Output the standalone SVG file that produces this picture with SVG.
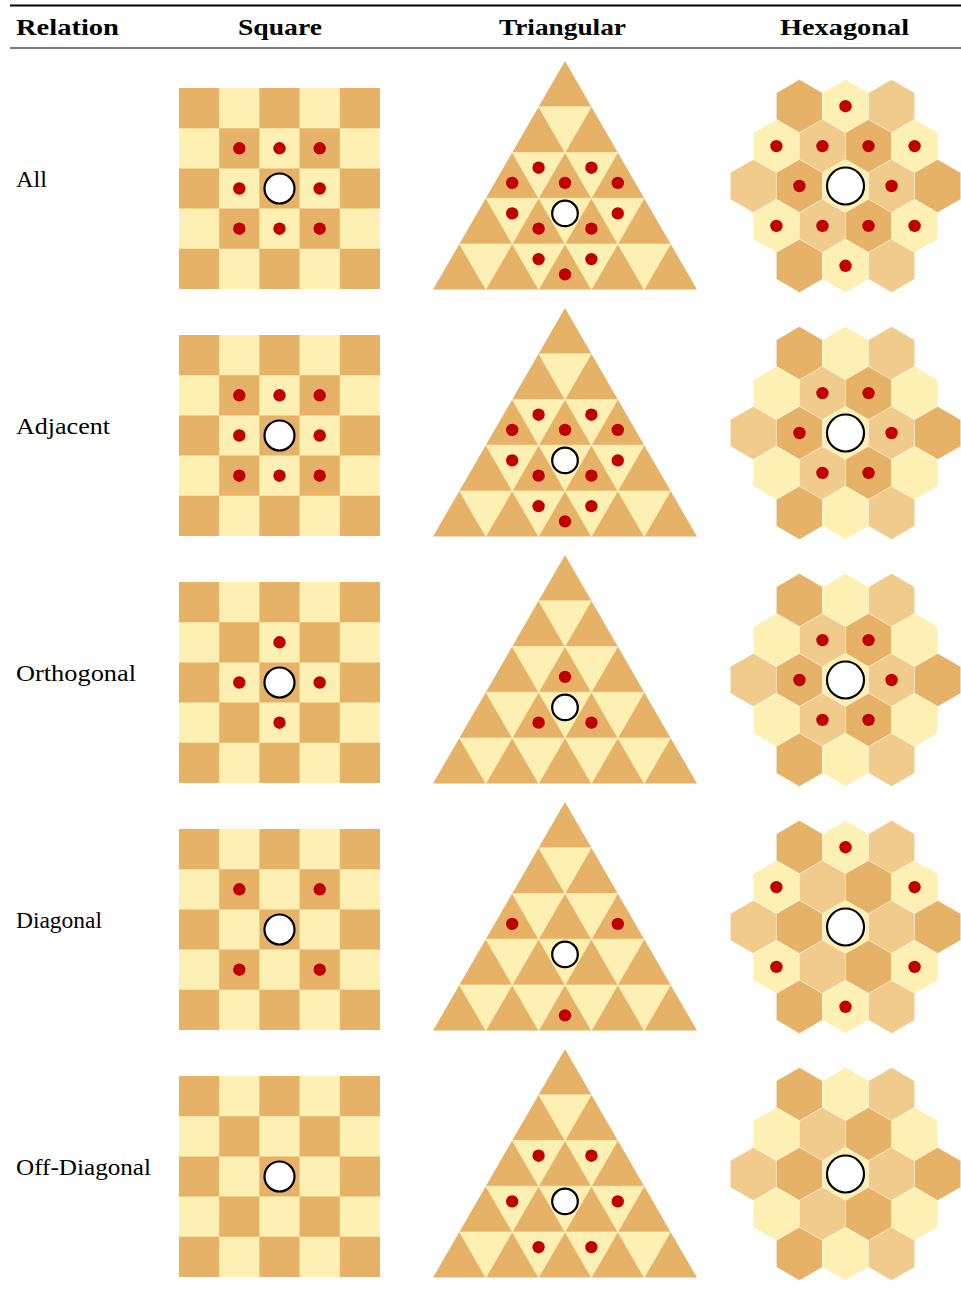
<svg xmlns="http://www.w3.org/2000/svg" width="961" height="1293" viewBox="0 0 961 1293">
<style>
.d{fill:#E6B267}.m{fill:#F1CB8C}.l{fill:#FEF0B3}
.dot{fill:#C00000}
.pc{fill:#fff;stroke:#000;stroke-width:2.2}
.h{font-family:"Liberation Serif",serif;font-weight:bold;font-size:23px;fill:#000}
.t{font-family:"Liberation Serif",serif;font-size:24px;fill:#000}
.hs{stroke:#fff;stroke-opacity:.4;stroke-width:.8}
.ts{stroke:#FEF0B3;stroke-width:.6}
</style>
<defs>
<g id="sq">
<rect class="d" width="201" height="201"/>
<path class="l" d="M40.2,0h40.2v40.2h-40.2z M120.6,0h40.2v40.2h-40.2z M0,40.2h40.2v40.2h-40.2z M80.4,40.2h40.2v40.2h-40.2z M160.8,40.2h40.2v40.2h-40.2z M40.2,80.4h40.2v40.2h-40.2z M120.6,80.4h40.2v40.2h-40.2z M0,120.6h40.2v40.2h-40.2z M80.4,120.6h40.2v40.2h-40.2z M160.8,120.6h40.2v40.2h-40.2z M40.2,160.8h40.2v40.2h-40.2z M120.6,160.8h40.2v40.2h-40.2z"/>
</g>
<g id="tri">
<path class="d" d="M0,0L132,228.6L-132,228.6Z"/>
<path class="l ts" d="M-26.4,45.72L26.4,45.72L0,91.44Z M-52.8,91.44L0,91.44L-26.4,137.16Z M0,91.44L52.8,91.44L26.4,137.16Z M-79.2,137.16L-26.4,137.16L-52.8,182.88Z M-26.4,137.16L26.4,137.16L0,182.88Z M26.4,137.16L79.2,137.16L52.8,182.88Z M-105.6,182.88L-52.8,182.88L-79.2,228.6Z M-52.8,182.88L0,182.88L-26.4,228.6Z M0,182.88L52.8,182.88L26.4,228.6Z M52.8,182.88L105.6,182.88L79.2,228.6Z"/>
</g>
<path id="hp" d="M0,-26.6L23.04,-13.3L23.04,13.3L0,26.6L-23.04,13.3L-23.04,-13.3Z"/>
<g id="hex">
<use href="#hp" class="d hs" x="-46.07" y="-79.8"/>
<use href="#hp" class="l hs" x="0" y="-79.8"/>
<use href="#hp" class="m hs" x="46.07" y="-79.8"/>
<use href="#hp" class="l hs" x="-69.1" y="-39.9"/>
<use href="#hp" class="m hs" x="-23.035" y="-39.9"/>
<use href="#hp" class="d hs" x="23.035" y="-39.9"/>
<use href="#hp" class="l hs" x="69.1" y="-39.9"/>
<use href="#hp" class="m hs" x="-92.14" y="0"/>
<use href="#hp" class="d hs" x="-46.07" y="0"/>
<use href="#hp" class="l hs" x="0" y="0"/>
<use href="#hp" class="m hs" x="46.07" y="0"/>
<use href="#hp" class="d hs" x="92.14" y="0"/>
<use href="#hp" class="l hs" x="-69.1" y="39.9"/>
<use href="#hp" class="m hs" x="-23.035" y="39.9"/>
<use href="#hp" class="d hs" x="23.035" y="39.9"/>
<use href="#hp" class="l hs" x="69.1" y="39.9"/>
<use href="#hp" class="d hs" x="-46.07" y="79.8"/>
<use href="#hp" class="l hs" x="0" y="79.8"/>
<use href="#hp" class="m hs" x="46.07" y="79.8"/>
</g>
</defs>
<rect width="961" height="1293" fill="#fff"/>

<g id="header">
<line x1="10" y1="5.5" x2="961" y2="5.5" stroke="#000" stroke-width="1.8"/>
<line x1="10" y1="48" x2="961" y2="48" stroke="#000" stroke-width="1.1"/>
<text class="h" x="16" y="35" textLength="103" lengthAdjust="spacingAndGlyphs">Relation</text>
<text class="h" x="238" y="35" textLength="84" lengthAdjust="spacingAndGlyphs">Square</text>
<text class="h" x="499" y="35" textLength="127" lengthAdjust="spacingAndGlyphs">Triangular</text>
<text class="h" x="780" y="35" textLength="129" lengthAdjust="spacingAndGlyphs">Hexagonal</text>
</g>

<!-- Row 1: All -->
<g id="row-all">
<text class="t" x="16" y="187" textLength="31" lengthAdjust="spacingAndGlyphs">All</text>
<g id="all-square" transform="translate(279.5,188.5)">
<use href="#sq" x="-100.5" y="-100.5"/>
<circle class="dot" cx="-40.2" cy="-40.2" r="6.2"/><circle class="dot" cx="0" cy="-40.2" r="6.2"/><circle class="dot" cx="40.2" cy="-40.2" r="6.2"/>
<circle class="dot" cx="-40.2" cy="0" r="6.2"/><circle class="dot" cx="40.2" cy="0" r="6.2"/>
<circle class="dot" cx="-40.2" cy="40.2" r="6.2"/><circle class="dot" cx="0" cy="40.2" r="6.2"/><circle class="dot" cx="40.2" cy="40.2" r="6.2"/>
<circle class="pc" cx="0" cy="0" r="15"/>
</g>
<g id="all-tri" transform="translate(565,61)">
<use href="#tri"/>
<circle class="dot" cx="-26.4" cy="106.68" r="6.2"/><circle class="dot" cx="26.4" cy="106.68" r="6.2"/>
<circle class="dot" cx="-52.8" cy="121.92" r="6.2"/><circle class="dot" cx="0" cy="121.92" r="6.2"/><circle class="dot" cx="52.8" cy="121.92" r="6.2"/>
<circle class="dot" cx="-52.8" cy="152.4" r="6.2"/><circle class="dot" cx="52.8" cy="152.4" r="6.2"/>
<circle class="dot" cx="-26.4" cy="167.64" r="6.2"/><circle class="dot" cx="26.4" cy="167.64" r="6.2"/>
<circle class="dot" cx="-26.4" cy="198.12" r="6.2"/><circle class="dot" cx="26.4" cy="198.12" r="6.2"/>
<circle class="dot" cx="0" cy="213.36" r="6.2"/>
<circle class="pc" cx="0" cy="152.4" r="12.8"/>
</g>
<g id="all-hex" transform="translate(845.5,186)">
<use href="#hex"/>
<circle class="dot" cx="0" cy="-79.8" r="6.2"/>
<circle class="dot" cx="-69.1" cy="-39.9" r="6.2"/><circle class="dot" cx="-23.035" cy="-39.9" r="6.2"/><circle class="dot" cx="23.035" cy="-39.9" r="6.2"/><circle class="dot" cx="69.1" cy="-39.9" r="6.2"/>
<circle class="dot" cx="-46.07" cy="0" r="6.2"/><circle class="dot" cx="46.07" cy="0" r="6.2"/>
<circle class="dot" cx="-69.1" cy="39.9" r="6.2"/><circle class="dot" cx="-23.035" cy="39.9" r="6.2"/><circle class="dot" cx="23.035" cy="39.9" r="6.2"/><circle class="dot" cx="69.1" cy="39.9" r="6.2"/>
<circle class="dot" cx="0" cy="79.8" r="6.2"/>
<circle class="pc" cx="0" cy="0" r="18.5"/>
</g>
</g>

<!-- Row 2: Adjacent -->
<g id="row-adjacent">
<text class="t" x="16" y="434" textLength="94" lengthAdjust="spacingAndGlyphs">Adjacent</text>
<g id="adj-square" transform="translate(279.5,435.5)">
<use href="#sq" x="-100.5" y="-100.5"/>
<circle class="dot" cx="-40.2" cy="-40.2" r="6.2"/><circle class="dot" cx="0" cy="-40.2" r="6.2"/><circle class="dot" cx="40.2" cy="-40.2" r="6.2"/>
<circle class="dot" cx="-40.2" cy="0" r="6.2"/><circle class="dot" cx="40.2" cy="0" r="6.2"/>
<circle class="dot" cx="-40.2" cy="40.2" r="6.2"/><circle class="dot" cx="0" cy="40.2" r="6.2"/><circle class="dot" cx="40.2" cy="40.2" r="6.2"/>
<circle class="pc" cx="0" cy="0" r="15"/>
</g>
<g id="adj-tri" transform="translate(565,308)">
<use href="#tri"/>
<circle class="dot" cx="-26.4" cy="106.68" r="6.2"/><circle class="dot" cx="26.4" cy="106.68" r="6.2"/>
<circle class="dot" cx="-52.8" cy="121.92" r="6.2"/><circle class="dot" cx="0" cy="121.92" r="6.2"/><circle class="dot" cx="52.8" cy="121.92" r="6.2"/>
<circle class="dot" cx="-52.8" cy="152.4" r="6.2"/><circle class="dot" cx="52.8" cy="152.4" r="6.2"/>
<circle class="dot" cx="-26.4" cy="167.64" r="6.2"/><circle class="dot" cx="26.4" cy="167.64" r="6.2"/>
<circle class="dot" cx="-26.4" cy="198.12" r="6.2"/><circle class="dot" cx="26.4" cy="198.12" r="6.2"/>
<circle class="dot" cx="0" cy="213.36" r="6.2"/>
<circle class="pc" cx="0" cy="152.4" r="12.8"/>
</g>
<g id="adj-hex" transform="translate(845.5,433)">
<use href="#hex"/>
<circle class="dot" cx="-23.035" cy="-39.9" r="6.2"/><circle class="dot" cx="23.035" cy="-39.9" r="6.2"/>
<circle class="dot" cx="-46.07" cy="0" r="6.2"/><circle class="dot" cx="46.07" cy="0" r="6.2"/>
<circle class="dot" cx="-23.035" cy="39.9" r="6.2"/><circle class="dot" cx="23.035" cy="39.9" r="6.2"/>
<circle class="pc" cx="0" cy="0" r="18.5"/>
</g>
</g>

<!-- Row 3: Orthogonal -->
<g id="row-orthogonal">
<text class="t" x="16" y="681" textLength="120" lengthAdjust="spacingAndGlyphs">Orthogonal</text>
<g id="orth-square" transform="translate(279.5,682.5)">
<use href="#sq" x="-100.5" y="-100.5"/>
<circle class="dot" cx="0" cy="-40.2" r="6.2"/>
<circle class="dot" cx="-40.2" cy="0" r="6.2"/><circle class="dot" cx="40.2" cy="0" r="6.2"/>
<circle class="dot" cx="0" cy="40.2" r="6.2"/>
<circle class="pc" cx="0" cy="0" r="15"/>
</g>
<g id="orth-tri" transform="translate(565,555)">
<use href="#tri"/>
<circle class="dot" cx="0" cy="121.92" r="6.2"/>
<circle class="dot" cx="-26.4" cy="167.64" r="6.2"/><circle class="dot" cx="26.4" cy="167.64" r="6.2"/>
<circle class="pc" cx="0" cy="152.4" r="12.8"/>
</g>
<g id="orth-hex" transform="translate(845.5,680)">
<use href="#hex"/>
<circle class="dot" cx="-23.035" cy="-39.9" r="6.2"/><circle class="dot" cx="23.035" cy="-39.9" r="6.2"/>
<circle class="dot" cx="-46.07" cy="0" r="6.2"/><circle class="dot" cx="46.07" cy="0" r="6.2"/>
<circle class="dot" cx="-23.035" cy="39.9" r="6.2"/><circle class="dot" cx="23.035" cy="39.9" r="6.2"/>
<circle class="pc" cx="0" cy="0" r="18.5"/>
</g>
</g>

<!-- Row 4: Diagonal -->
<g id="row-diagonal">
<text class="t" x="16" y="928" textLength="86" lengthAdjust="spacingAndGlyphs">Diagonal</text>
<g id="diag-square" transform="translate(279.5,929.5)">
<use href="#sq" x="-100.5" y="-100.5"/>
<circle class="dot" cx="-40.2" cy="-40.2" r="6.2"/><circle class="dot" cx="40.2" cy="-40.2" r="6.2"/>
<circle class="dot" cx="-40.2" cy="40.2" r="6.2"/><circle class="dot" cx="40.2" cy="40.2" r="6.2"/>
<circle class="pc" cx="0" cy="0" r="15"/>
</g>
<g id="diag-tri" transform="translate(565,802)">
<use href="#tri"/>
<circle class="dot" cx="-52.8" cy="121.92" r="6.2"/><circle class="dot" cx="52.8" cy="121.92" r="6.2"/>
<circle class="dot" cx="0" cy="213.36" r="6.2"/>
<circle class="pc" cx="0" cy="152.4" r="12.8"/>
</g>
<g id="diag-hex" transform="translate(845.5,927)">
<use href="#hex"/>
<circle class="dot" cx="0" cy="-79.8" r="6.2"/>
<circle class="dot" cx="-69.1" cy="-39.9" r="6.2"/><circle class="dot" cx="69.1" cy="-39.9" r="6.2"/>
<circle class="dot" cx="-69.1" cy="39.9" r="6.2"/><circle class="dot" cx="69.1" cy="39.9" r="6.2"/>
<circle class="dot" cx="0" cy="79.8" r="6.2"/>
<circle class="pc" cx="0" cy="0" r="18.5"/>
</g>
</g>

<!-- Row 5: Off-Diagonal -->
<g id="row-offdiagonal">
<text class="t" x="16" y="1175" textLength="135" lengthAdjust="spacingAndGlyphs">Off-Diagonal</text>
<g id="off-square" transform="translate(279.5,1176.5)">
<use href="#sq" x="-100.5" y="-100.5"/>
<circle class="pc" cx="0" cy="0" r="15"/>
</g>
<g id="off-tri" transform="translate(565,1049)">
<use href="#tri"/>
<circle class="dot" cx="-26.4" cy="106.68" r="6.2"/><circle class="dot" cx="26.4" cy="106.68" r="6.2"/>
<circle class="dot" cx="-52.8" cy="152.4" r="6.2"/><circle class="dot" cx="52.8" cy="152.4" r="6.2"/>
<circle class="dot" cx="-26.4" cy="198.12" r="6.2"/><circle class="dot" cx="26.4" cy="198.12" r="6.2"/>
<circle class="pc" cx="0" cy="152.4" r="12.8"/>
</g>
<g id="off-hex" transform="translate(845.5,1174)">
<use href="#hex"/>
<circle class="pc" cx="0" cy="0" r="18.5"/>
</g>
</g>

<g id="connectors"/>
</svg>
